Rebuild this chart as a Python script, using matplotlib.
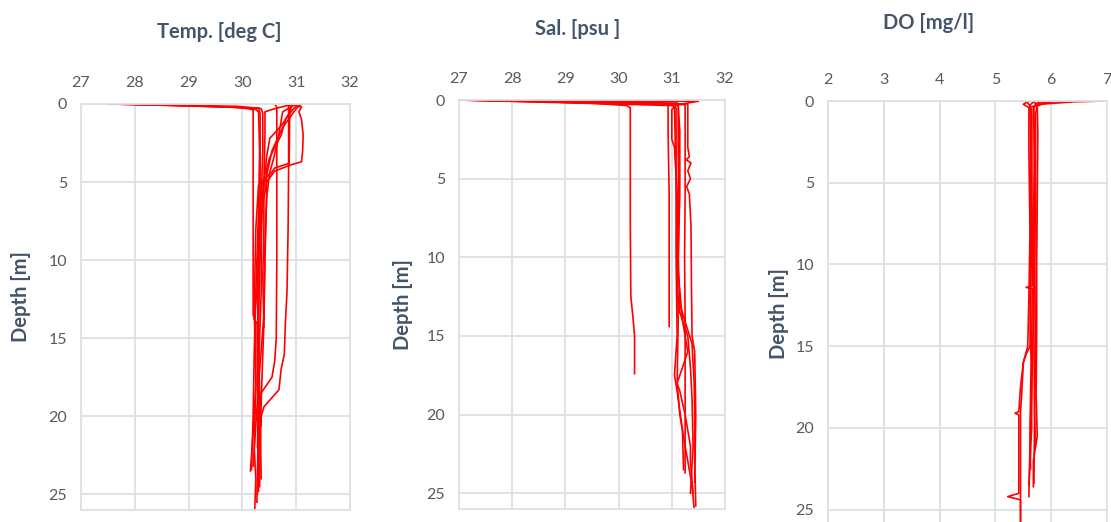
import matplotlib.pyplot as plt

# depth profiles, one (depth, value) pair per cast
temp_profiles = [
    ([0, 0.1, 0.25, 0.4, 2, 6, 10, 13.5, 14, 18, 22, 24, 26],
     [27.5, 29.0, 30.1, 30.2, 30.2, 30.2, 30.2, 30.2, 30.25, 30.25, 30.22, 30.25, 30.23]),
    ([0, 0.2, 0.35, 0.5, 3, 7, 12, 16, 20, 23.4],
     [27.6, 29.8, 30.25, 30.3, 30.32, 30.3, 30.25, 30.22, 30.2, 30.17]),
    ([0, 0.3, 0.5, 2, 5, 8, 11, 14.3],
     [30.95, 30.6, 30.42, 30.42, 30.4, 30.4, 30.38, 30.4]),
    ([0, 0.2, 5, 10, 15, 16.5, 17.5, 18, 18.5, 20, 22, 24.8],
     [30.6, 30.64, 30.64, 30.64, 30.63, 30.6, 30.55, 30.45, 30.35, 30.3, 30.3, 30.3]),
    ([0, 0.3, 4, 8, 12, 14, 16, 17, 18.3, 19, 19.4, 20, 20.6],
     [30.85, 30.86, 30.86, 30.85, 30.83, 30.8, 30.78, 30.72, 30.68, 30.5, 30.4, 30.35, 30.35]),
    ([0, 0.2, 0.5, 1, 2, 3, 3.7, 3.9, 4.3, 5, 6, 9, 13.5, 18, 22],
     [30.9, 31.1, 31.05, 31.1, 31.13, 31.12, 31.1, 30.9, 30.6, 30.45, 30.45, 30.42, 30.4, 30.3, 30.28]),
    ([0, 0.3, 1, 1.4, 2.2, 3.4, 4.5, 5.5, 8, 12, 16, 20, 24],
     [31.05, 30.95, 30.8, 30.72, 30.51, 30.45, 30.42, 30.35, 30.3, 30.28, 30.3, 30.32, 30.3]),
    ([0, 0.4, 1, 2, 2.8, 3.5, 4.2, 5, 7, 12, 17, 22, 25],
     [30.9, 30.9, 30.8, 30.72, 30.6, 30.5, 30.45, 30.45, 30.35, 30.35, 30.3, 30.3, 30.28]),
    ([0, 0.2, 0.5, 1.5, 2.5, 3.5, 4.5, 5.2, 8, 13, 18, 21, 23.5],
     [31.0, 30.9, 30.75, 30.7, 30.65, 30.58, 30.5, 30.3, 30.25, 30.22, 30.25, 30.2, 30.15]),
    ([0, 0.3, 3.8, 4.1, 4.6, 6, 10, 14, 19, 24.5],
     [30.9, 30.88, 30.87, 30.6, 30.5, 30.45, 30.42, 30.4, 30.35, 30.32]),
    ([0, 0.15, 0.3, 0.6, 3, 6, 10, 15, 20, 25.5],
     [27.5, 29.9, 30.35, 30.38, 30.38, 30.35, 30.3, 30.28, 30.3, 30.27]),
    ([0, 0.3, 1.5, 3, 4.6, 5.5, 9, 13.8, 14.2, 19, 23.2],
     [31.1, 31.0, 30.75, 30.55, 30.45, 30.38, 30.35, 30.22, 30.3, 30.28, 30.2]),
    ([0, 0.25, 0.6, 5, 10, 15, 20, 24],
     [27.8, 30.3, 30.33, 30.33, 30.32, 30.3, 30.33, 30.35]),
]

sal_profiles = [
    ([0, 0.2, 0.35, 0.5, 3, 8, 12.5, 13.5, 14.2, 15, 17.4],
     [27.5, 29.5, 30.15, 30.22, 30.22, 30.22, 30.23, 30.26, 30.28, 30.3, 30.3]),
    ([0, 0.1, 0.3, 2, 6, 10, 14.4],
     [26.8, 30.8, 30.93, 30.93, 30.95, 30.95, 30.95]),
    ([0, 0.08, 0.3, 0.6, 2.5, 3, 6, 10, 14, 18, 20, 22, 24.5, 26],
     [27.0, 31.5, 31.1, 31.0, 31.0, 31.05, 31.1, 31.1, 31.12, 31.1, 31.15, 31.25, 31.38, 31.42]),
    ([0, 0.25, 1, 3, 3.6, 3.8, 4.0, 4.5, 5, 5.5, 6, 8, 12, 15, 16, 20, 24.3],
     [27.0, 31.3, 31.3, 31.3, 31.33, 31.27, 31.36, 31.3, 31.35, 31.28, 31.33, 31.36, 31.37, 31.38, 31.43, 31.45, 31.43]),
    ([0, 0.3, 2, 6, 10, 14, 18, 21, 23.7],
     [28.3, 31.25, 31.25, 31.25, 31.24, 31.25, 31.25, 31.25, 31.25]),
    ([0, 0.35, 0.5, 4, 8, 12, 13.5, 15, 17, 19, 22, 25],
     [27.0, 31.0, 31.08, 31.08, 31.1, 31.1, 31.15, 31.3, 31.35, 31.38, 31.4, 31.35]),
    ([0, 0.2, 0.4, 3, 7, 11, 14, 16, 18, 18.5, 20, 22, 23, 25],
     [27.0, 31.05, 31.12, 31.12, 31.13, 31.12, 31.2, 31.3, 31.1, 31.15, 31.25, 31.35, 31.35, 31.4]),
    ([0, 0.3, 2, 6, 10, 13, 15.5, 18, 20, 23, 25.8],
     [27.0, 31.12, 31.15, 31.15, 31.12, 31.15, 31.38, 31.42, 31.43, 31.43, 31.45]),
    ([0, 0.1, 0.5, 5, 10, 15, 17.5, 18.5, 21, 23.5],
     [27.0, 31.1, 31.05, 31.08, 31.08, 31.1, 31.05, 31.1, 31.2, 31.22]),
]

do_profiles = [
    ([0, 0.05, 0.2, 0.4, 3, 8, 12, 15, 16, 17.5, 19, 19.1, 19.2, 22, 24, 24.2, 24.4, 26],
     [6.95, 6.4, 5.8, 5.6, 5.6, 5.62, 5.6, 5.58, 5.5, 5.45, 5.42, 5.35, 5.42, 5.42, 5.42, 5.22, 5.45, 5.45]),
    ([0, 0.2, 0.5, 4, 8, 11.3, 11.4, 11.5, 15, 20, 23.5],
     [5.6, 5.5, 5.65, 5.65, 5.66, 5.66, 5.55, 5.66, 5.65, 5.65, 5.6]),
    ([0, 0.3, 0.8, 5, 10, 15, 20, 23.4],
     [6.0, 5.75, 5.72, 5.72, 5.73, 5.72, 5.7, 5.69]),
    ([0, 0.25, 1, 5, 10, 15, 15.5, 16, 18, 19, 20, 23, 25.8],
     [5.7, 5.62, 5.65, 5.65, 5.64, 5.62, 5.55, 5.5, 5.47, 5.45, 5.45, 5.45, 5.45]),
    ([0, 0.4, 3, 8, 13, 18, 21, 24.2],
     [5.8, 5.68, 5.7, 5.68, 5.68, 5.65, 5.62, 5.6]),
    ([0, 0.2, 2, 6, 10, 14, 18, 20.5, 22, 23.6],
     [5.65, 5.75, 5.76, 5.75, 5.74, 5.74, 5.73, 5.75, 5.68, 5.68]),
    ([0, 0.3, 2, 7, 12, 16, 20, 22.5],
     [5.55, 5.62, 5.63, 5.63, 5.62, 5.64, 5.62, 5.63]),
    ([0, 0.15, 0.5, 4, 9, 14, 19, 21],
     [6.2, 5.72, 5.69, 5.7, 5.7, 5.69, 5.7, 5.72]),
]

titles = ['Temp. [deg C]', 'Sal. [psu ]', 'DO [mg/l]']
xlims = [(27, 32), (27, 32), (2, 7)]

# axes boxes in figure fractions [left, bottom, width, height]
boxes = [
    [0.0729, 0.023, 0.2421, 0.7778],
    [0.4131, 0.0249, 0.2395, 0.7835],
    [0.7453, -0.0077, 0.2511, 0.8142],
]
title_pos = [(0.197, 0.939), (0.520, 0.944), (0.836, 0.956)]
ylabel_pos = [(0.019, 0.431), (0.363, 0.416), (0.701, 0.400)]

grid_col = '#DCE0E7'
tick_col = '#595959'
title_col = '#44546A'
plt.rcParams['font.family'] = ['Lato', 'DejaVu Sans']

fig = plt.figure(figsize=(11.11, 5.22), dpi=100)

for i, profiles in enumerate([temp_profiles, sal_profiles, do_profiles]):
    ax = fig.add_axes(boxes[i])
    for depth, val in profiles:
        ax.plot(val, depth, color='#FF0000', lw=1.2)
    ax.set_xlim(*xlims[i])
    ax.set_ylim(26, 0)
    ax.set_yticks([0, 5, 10, 15, 20, 25])
    ax.xaxis.tick_top()
    ax.tick_params(length=0, labelsize=11.5, colors=tick_col, pad=10)
    ax.grid(color=grid_col, lw=1.3)
    ax.set_axisbelow(True)
    for s in ax.spines.values():
        s.set_color(grid_col)
        s.set_linewidth(1.3)
    fig.text(title_pos[i][0], title_pos[i][1], titles[i], ha='center', va='center',
             fontsize=14.5, fontweight='bold', color=title_col)
    fig.text(ylabel_pos[i][0], ylabel_pos[i][1], 'Depth [m]', ha='center', va='center',
             rotation=90, fontsize=14.5, fontweight='bold', color=title_col)

fig.savefig('out.png', dpi=100)
